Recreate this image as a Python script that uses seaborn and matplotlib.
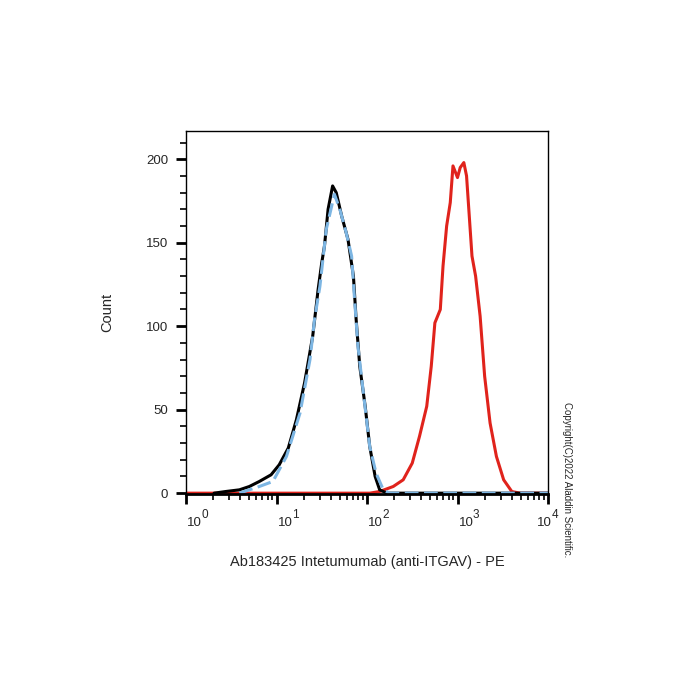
import numpy as np
import pandas as pd
import matplotlib
matplotlib.use("Agg")
import matplotlib.pyplot as plt
import matplotlib.ticker as mticker
import seaborn as sns

sns.set_style("white")
plt.rcParams['font.family'] = ['Liberation Sans', 'DejaVu Sans']

# fluorescence (log10 decades) vs count
iso_log = [0.31, 0.44, 0.59, 0.70, 0.81, 0.94, 1.03, 1.13, 1.22, 1.31, 1.40,
           1.46, 1.50, 1.53, 1.57, 1.62, 1.66, 1.72, 1.79, 1.85, 1.88, 1.92,
           1.98, 2.03, 2.09, 2.14, 2.22, 4.0]
iso_cnt = [0, 1, 2, 4, 7, 11, 17, 27, 44, 66, 94,
           122, 138, 148, 170, 184, 180, 166, 152, 130, 104, 76,
           52, 28, 10, 2, 0, 0]

blank_log = [0.59, 0.81, 0.96, 1.11, 1.26, 1.37, 1.42, 1.48, 1.55, 1.64, 1.70,
             1.77, 1.83, 1.86, 1.90, 1.96, 2.03, 2.10, 2.18, 2.25, 4.0]
blank_cnt = [0, 4, 7, 22, 48, 80, 104, 124, 158, 179, 170,
             156, 142, 118, 88, 60, 28, 12, 2, 0, 0]

ab_log = [0.0, 2.03, 2.14, 2.29, 2.40, 2.50, 2.58, 2.66, 2.71, 2.75, 2.81, 2.84,
          2.88, 2.92, 2.95, 3.00, 3.03, 3.07, 3.10, 3.13, 3.16, 3.20, 3.25,
          3.30, 3.36, 3.43, 3.51, 3.60, 3.69, 4.0]
ab_cnt = [0, 0, 1, 4, 8, 18, 34, 52, 76, 102, 110, 136,
          160, 174, 196, 189, 195, 198, 190, 166, 142, 130, 106,
          70, 42, 22, 8, 1, 0, 0]

decades = [0, 1, 2, 3, 4]

fig = plt.figure(figsize=(7, 7), dpi=100)
ax = fig.add_axes([186 / 700, 1 - 494 / 700, 362 / 700, 363 / 700])

df_ab = pd.DataFrame({'x': 10 ** np.array(ab_log), 'count': ab_cnt})
df_iso = pd.DataFrame({'x': 10 ** np.array(iso_log), 'count': iso_cnt})
df_blank = pd.DataFrame({'x': 10 ** np.array(blank_log), 'count': blank_cnt})

sns.lineplot(data=df_ab, x='x', y='count', ax=ax, color='#e0231c', lw=2.2)
sns.lineplot(data=df_iso, x='x', y='count', ax=ax, color='black', lw=2.2)
sns.lineplot(data=df_blank, x='x', y='count', ax=ax, color='#7db6e3', lw=2.2,
             linestyle=(0, (4.5, 1.8)))

ax.set_xscale('log')
ax.set_xlim(1, 1e4)
ax.set_ylim(-0.5, 216.9)

ax.xaxis.set_major_locator(mticker.FixedLocator([10 ** d for d in decades]))
ax.xaxis.set_minor_locator(mticker.LogLocator(base=10, subs=np.arange(2, 10)))
ax.xaxis.set_minor_formatter(mticker.NullFormatter())
ax.set_xticklabels([])

# FlowJo style decade labels: "10" with a full-size raised exponent
for d in decades:
    dx = -11 if d == decades[-1] else 1
    ax.annotate('10', xy=(10 ** d, 0), xycoords=('data', 'axes fraction'),
                xytext=(dx, -32), textcoords='offset pixels',
                ha='left', va='baseline', fontsize=9.5, annotation_clip=False)
    ax.annotate(str(d), xy=(10 ** d, 0), xycoords=('data', 'axes fraction'),
                xytext=(dx + 14.5, -24), textcoords='offset pixels',
                ha='left', va='baseline', fontsize=8.5, annotation_clip=False)

ax.yaxis.set_major_locator(mticker.MultipleLocator(50))
ax.yaxis.set_minor_locator(mticker.MultipleLocator(10))

ax.tick_params(axis='both', which='major', direction='out', length=7, width=2,
               color='black', labelsize=9.5, bottom=True, left=True)
ax.tick_params(axis='both', which='minor', direction='out', length=4, width=1.2,
               color='black', bottom=True, left=True)
ax.tick_params(axis='y', which='major', pad=6)

for side in ['top', 'right', 'left']:
    ax.spines[side].set_linewidth(1.0)
    ax.spines[side].set_color('black')
ax.spines['bottom'].set_linewidth(2.0)
ax.spines['bottom'].set_color('black')

ax.set_xlabel('Ab183425 Intetumumab (anti-ITGAV) - PE', fontsize=10.5)
ax.xaxis.set_label_coords(0.5, (494 - 555) / 363)
ax.set_ylabel('Count', fontsize=10.5, labelpad=23)

fig.text(567 / 700, 1 - 480 / 700, 'Copyright(C)2022 Aladdin Scientific.',
         rotation=-90, fontsize=7, ha='center', va='center')

fig.savefig('out.png', dpi=100)
